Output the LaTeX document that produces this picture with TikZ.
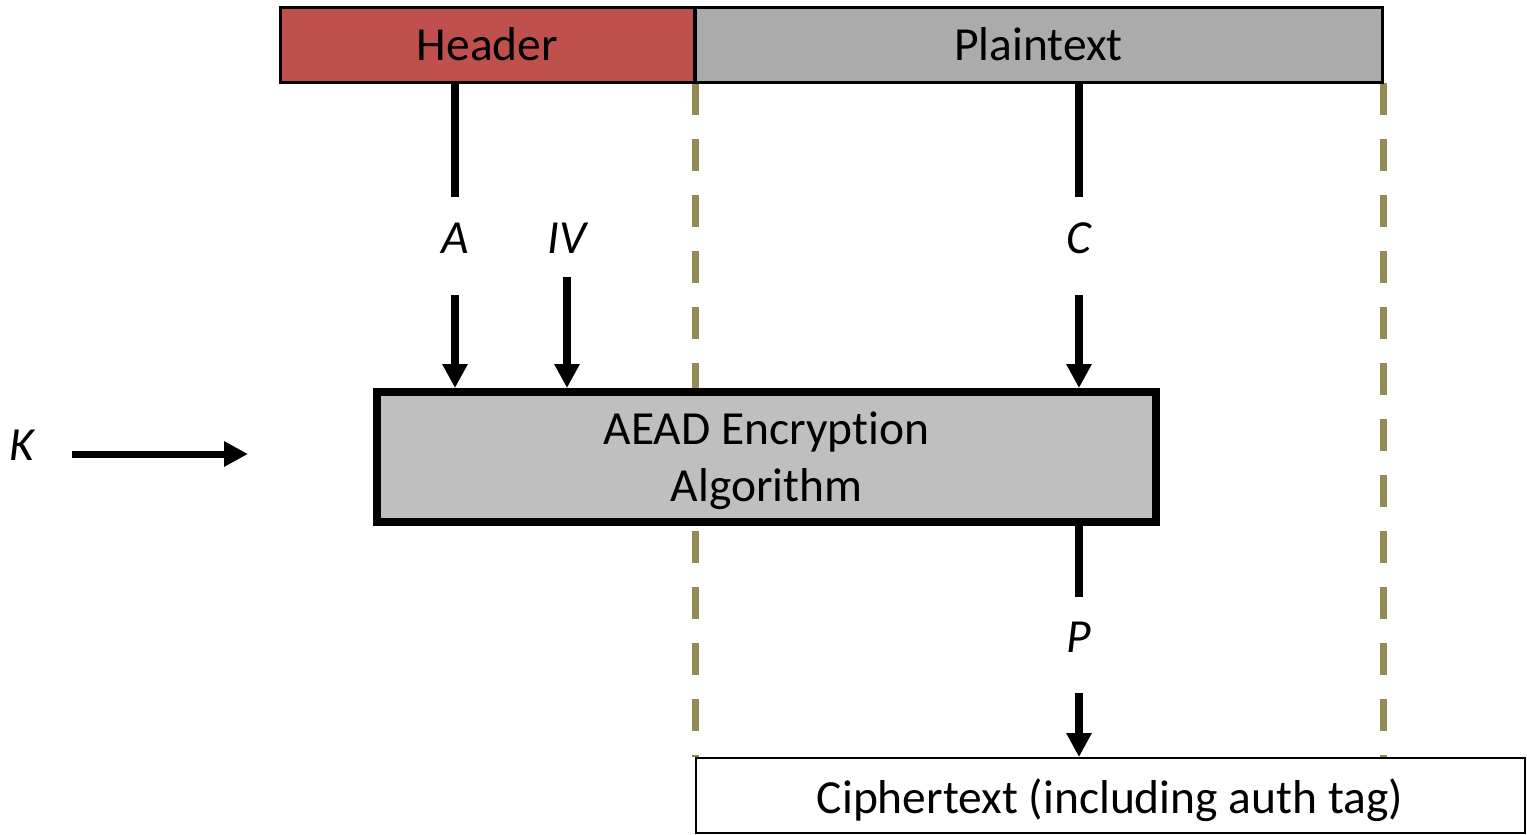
\documentclass[tikz,border=0pt]{standalone}
\usepackage{fontspec}
\setmainfont{Carlito}[Ligatures={NoCommon}]
\usetikzlibrary{arrows.meta}
\definecolor{hdrred}{HTML}{C0504D}
\definecolor{ptgray}{HTML}{ABABAB}
\definecolor{algray}{HTML}{BFBFBF}
\definecolor{olive}{HTML}{948A54}
\tikzset{
  txt/.style={font=\fontsize{47.5}{57}\selectfont},
  lbl/.style={font=\fontsize{47.5}{57}\selectfont\itshape, inner sep=0pt},
  topbox/.style={draw=black, line width=3pt, inner sep=0pt, outer sep=0pt, txt, minimum height=75pt},
  flow/.style={line width=8pt},
  flowarrow/.style={line width=8pt, -{Triangle[length=24pt,width=24pt]}},
  guide/.style={draw=olive, line width=7pt, dash pattern=on 32pt off 24pt},
}
\begin{document}
\begin{tikzpicture}[x=1pt,y=-1pt]
\useasboundingbox[fill=white] (0,0) rectangle (1527,835);
% guide lines (behind everything)
\coordinate (g1a) at (695,83);
\coordinate (g1b) at (695,757);
\coordinate (g2a) at (1383,83);
\coordinate (g2b) at (1383,757);
\draw[guide] (g1a) -- (g1b);
\draw[guide] (g2a) -- (g2b);
% top boxes
\node[topbox, fill=hdrred, minimum width=414pt] (hdr) at (487.5,44.5) {Header};
\node[topbox, fill=ptgray, minimum width=687pt] (pt) at (1038.5,44.5) {Plaintext};
% algorithm box
\node[draw=black, fill=algray, line width=8pt, inner sep=0pt, outer sep=0pt,
      minimum width=779pt, minimum height=130pt, txt] (alg) at (766.5,457)
      {\raisebox{-5pt}[\height][\depth]{\begin{tabular}{@{}c@{}}AEAD Encryption\\Algorithm\end{tabular}}};
% ciphertext box
\node[draw=black, fill=white, line width=2pt, inner sep=0pt, outer sep=0pt,
      minimum width=829pt, minimum height=75pt, txt] (ct) at (1110,795.5)
      {\raisebox{-5pt}[\height][\depth]{Ciphertext (including auth tag)}};
% labels
\node[lbl] (A) at (455,238) {A};
\node[lbl] (IV) at (567,238) {IV};
\node[lbl] (C) at (1079,238) {C};
\node[lbl] (P) at (1079,637) {P};
\node[lbl] (K) at (22,445) {K};
% coordinates
\coordinate (a1) at (455,83);
\coordinate (a2) at (455,197);
\coordinate (a3) at (455,295);
\coordinate (a4) at (455,388);
\coordinate (iv1) at (567,277);
\coordinate (iv2) at (567,388);
\coordinate (c1) at (1079,83);
\coordinate (c2) at (1079,197);
\coordinate (c3) at (1079,295);
\coordinate (c4) at (1079,388);
\coordinate (p1) at (1079,526);
\coordinate (p2) at (1079,597);
\coordinate (p3) at (1079,693);
\coordinate (p4) at (1079,757);
\coordinate (k1) at (72,454);
\coordinate (k2) at (248,454);
% connectors
\draw[flow] (a1) -- (a2);
\draw[flowarrow] (a3) -- (a4);
\draw[flowarrow] (iv1) -- (iv2);
\draw[flow] (c1) -- (c2);
\draw[flowarrow] (c3) -- (c4);
\draw[flow] (p1) -- (p2);
\draw[flowarrow] (p3) -- (p4);
\draw[line width=7pt, -{Triangle[length=24pt,width=24pt]}] (k1) -- (k2);
\end{tikzpicture}
\end{document}
